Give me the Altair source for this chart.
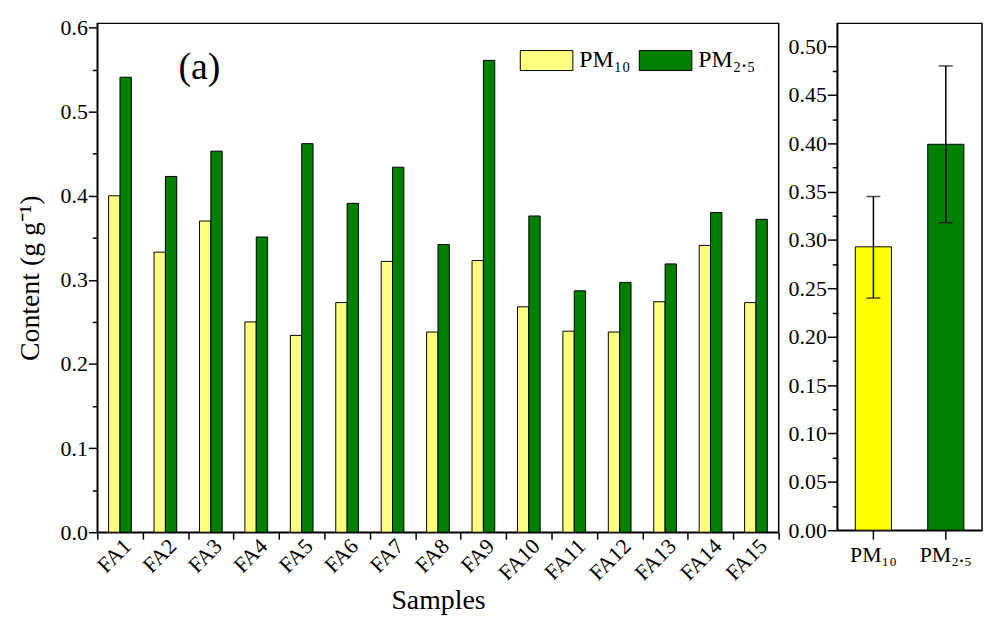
import altair as alt
import pandas as pd

FONT = "Liberation Serif"

samples = ["FA1", "FA2", "FA3", "FA4", "FA5", "FA6", "FA7", "FA8",
           "FA9", "FA10", "FA11", "FA12", "FA13", "FA14", "FA15"]
pm10 = [0.400, 0.333, 0.370, 0.250, 0.234, 0.273, 0.322, 0.238,
        0.323, 0.268, 0.239, 0.238, 0.274, 0.341, 0.273]
pm25 = [0.541, 0.423, 0.453, 0.351, 0.462, 0.391, 0.434, 0.342,
        0.561, 0.376, 0.287, 0.297, 0.319, 0.380, 0.372]

sizes = ["PM\u2081\u2080", "PM\u2082.\u2085"]
mean_vals = [0.293, 0.399]
low_vals = [0.240, 0.318]
high_vals = [0.345, 0.480]

left_major = [0.0, 0.1, 0.2, 0.3, 0.4, 0.5, 0.6]
left_minor = [0.05, 0.15, 0.25, 0.35, 0.45, 0.55]
right_major = [0.0, 0.05, 0.10, 0.15, 0.20, 0.25, 0.30, 0.35, 0.40, 0.45, 0.50]
right_minor = [0.025, 0.075, 0.125, 0.175, 0.225, 0.275, 0.325, 0.375, 0.425, 0.475]

rows = []
for s, a, b in zip(samples, pm10, pm25):
    rows.append({"Sample": s, "Size": sizes[0], "Value": a})
    rows.append({"Sample": s, "Size": sizes[1], "Value": b})
left_df = pd.DataFrame(rows)
right_df = pd.DataFrame({"Size": sizes, "Value": mean_vals,
                         "Low": low_vals, "High": high_vals})
lminor_df = pd.DataFrame({"v": left_minor})
rminor_df = pd.DataFrame({"v": right_minor})

LW, LH = 687, 513
RW, RH = 146, 511

yl_scale = alt.Scale(domain=[0, 0.605], nice=False, zero=True)
yr_scale = alt.Scale(domain=[0, 0.524], nice=False, zero=True)

bars_left = alt.Chart(left_df).mark_bar(stroke="black", strokeWidth=1).encode(
    x=alt.X("Sample:N", sort=samples,
            scale=alt.Scale(paddingInner=0, paddingOuter=0),
            axis=alt.Axis(title="Samples", labelAngle=-45, tickBand="extent",
                          tickSize=7, labelPadding=-4, titlePadding=3)),
    xOffset=alt.XOffset("Size:N", sort=sizes,
                        scale=alt.Scale(paddingInner=0, paddingOuter=1)),
    y=alt.Y("Value:Q", scale=yl_scale,
            axis=alt.Axis(title="Content (g g\u207b\u00b9)", values=left_major,
                          format=".1f", tickSize=9, labelPadding=1,
                          titlePadding=16)),
    color=alt.Color("Size:N", sort=sizes,
                    scale=alt.Scale(domain=sizes, range=["#FFFF80", "#008000"]),
                    legend=alt.Legend(orient="none", legendX=426, legendY=10,
                                      direction="horizontal", title=None,
                                      symbolType="M-1,-0.38H1V0.38H-1Z",
                                      symbolSize=2809, symbolStrokeColor="black",
                                      symbolStrokeWidth=1, symbolOpacity=1,
                                      labelFont=FONT, labelFontSize=24,
                                      labelColor="black", labelOffset=6,
                                      columnPadding=6, padding=0)),
)

minor_left = alt.Chart(lminor_df).mark_point(opacity=0).encode(
    y=alt.Y("v:Q", scale=yl_scale,
            axis=alt.Axis(values=left_minor, labels=False, tickSize=5,
                          domain=False, title=None, orient="left")),
)

label_a = alt.Chart(pd.DataFrame({"t": ["(a)"]})).mark_text(
    font=FONT, fontSize=38, color="black", align="center", baseline="middle"
).encode(text="t:N", x=alt.value(103), y=alt.value(45))

left = alt.layer(bars_left, minor_left, label_a).resolve_axis(
    y="independent").properties(width=LW, height=LH)

xr = alt.X("Size:N", sort=sizes,
           scale=alt.Scale(paddingInner=0.5, paddingOuter=0.25),
           axis=alt.Axis(title=None, labelAngle=0, tickSize=9, labelPadding=6))

bars_right = alt.Chart(right_df).mark_bar(stroke="black", strokeWidth=1).encode(
    x=xr,
    y=alt.Y("Value:Q", scale=yr_scale,
            axis=alt.Axis(title=None, values=right_major, format=".2f",
                          tickSize=10, labelPadding=1)),
    color=alt.Color("Size:N", sort=sizes,
                    scale=alt.Scale(domain=sizes, range=["#FFFF00", "#008000"]),
                    legend=None),
)
err_rule = alt.Chart(right_df).mark_rule(color="black", strokeWidth=1.5).encode(
    x=alt.X("Size:N", sort=sizes),
    y=alt.Y("Low:Q", axis=None), y2="High:Q")
cap_low = alt.Chart(right_df).mark_tick(color="black", size=14, thickness=1.5).encode(
    x=alt.X("Size:N", sort=sizes), y=alt.Y("Low:Q", axis=None))
cap_high = alt.Chart(right_df).mark_tick(color="black", size=14, thickness=1.5).encode(
    x=alt.X("Size:N", sort=sizes), y=alt.Y("High:Q", axis=None))
minor_right = alt.Chart(rminor_df).mark_point(opacity=0).encode(
    y=alt.Y("v:Q", scale=yr_scale,
            axis=alt.Axis(values=right_minor, labels=False, tickSize=5,
                          domain=False, title=None, orient="left")),
)

right = alt.layer(bars_right, err_rule, cap_low, cap_high, minor_right).resolve_axis(
    y="independent").properties(width=RW, height=RH)

chart = alt.hconcat(left, right, spacing=59, bounds="flush").resolve_scale(
    color="independent", y="independent", x="independent"
).configure(font=FONT).configure_view(stroke="black", strokeWidth=1.5).configure_axis(
    labelFont=FONT, labelFontSize=22, labelColor="black",
    titleFont=FONT, titleFontSize=28, titleFontWeight="normal", titleColor="black",
    domainColor="black", domainWidth=1.5, tickColor="black", tickWidth=1.5,
    grid=False,
).properties(padding={"left": 7, "top": 5, "right": 0, "bottom": 0},
             background="white")

chart.save("out.html", embed_options={"renderer": "svg", "actions": False})
